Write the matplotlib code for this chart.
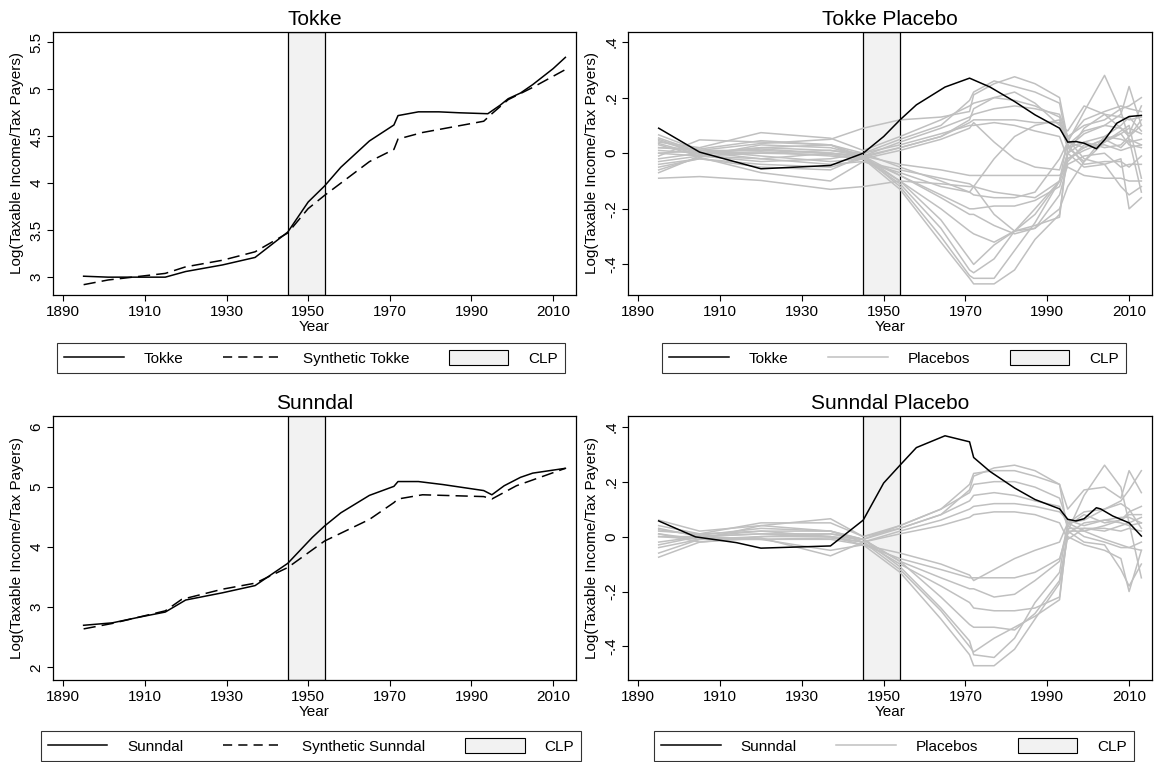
import matplotlib
matplotlib.use("Agg")
import matplotlib.pyplot as plt
from matplotlib.lines import Line2D
from matplotlib.patches import Patch

plt.rcParams['font.family'] = ['Liberation Sans', 'DejaVu Sans']
plt.rcParams['font.size'] = 11

# --- data ---
CLP_START = 1945
CLP_END = 1954

TOKKE_YEARS = [1895, 1901, 1915, 1920, 1929, 1937, 1945, 1950, 1954, 1958, 1965, 1971, 1972,
               1977, 1982, 1987, 1994, 1997, 1999, 2002, 2005, 2010, 2013]
TOKKE = [3.01, 3.00, 3.00, 3.06, 3.13, 3.21, 3.48, 3.80, 3.97, 4.17, 4.45, 4.62, 4.72,
         4.76, 4.76, 4.75, 4.74, 4.83, 4.90, 4.96, 5.05, 5.22, 5.34]
SYNTH_TOKKE_YEARS = [1895, 1901, 1915, 1920, 1929, 1937, 1945, 1950, 1954, 1965, 1971, 1972,
                     1978, 1993, 1995, 1999, 2005, 2013]
SYNTH_TOKKE = [2.92, 2.97, 3.04, 3.11, 3.18, 3.27, 3.47, 3.73, 3.87, 4.23, 4.36, 4.47,
               4.54, 4.66, 4.74, 4.89, 5.02, 5.21]

SUNNDAL_YEARS = [1895, 1902, 1909, 1915, 1920, 1929, 1937, 1945, 1951, 1954, 1958, 1965, 1971,
                 1972, 1977, 1983, 1993, 1995, 1998, 2002, 2005, 2013]
SUNNDAL = [2.70, 2.74, 2.84, 2.92, 3.12, 3.24, 3.36, 3.73, 4.16, 4.35, 4.57, 4.86, 5.01,
           5.09, 5.09, 5.04, 4.94, 4.87, 5.02, 5.16, 5.23, 5.31]
SYNTH_SUNNDAL_YEARS = [1895, 1902, 1915, 1919, 1929, 1937, 1945, 1954, 1965, 1971, 1972,
                       1978, 1993, 1995, 2001, 2013]
SYNTH_SUNNDAL = [2.64, 2.73, 2.94, 3.13, 3.30, 3.40, 3.66, 4.10, 4.46, 4.74, 4.80,
                 4.87, 4.84, 4.80, 5.02, 5.31]

TOKKE_GAP_YEARS = [1895, 1905, 1920, 1937, 1945, 1950, 1954, 1958, 1965, 1971, 1976, 1982,
                   1987, 1993, 1995, 1997, 1999, 2002, 2004, 2007, 2010, 2013]
TOKKE_GAP = [0.09, 0.004, -0.056, -0.044, 0.0, 0.06, 0.12, 0.174, 0.238, 0.27, 0.238, 0.186,
             0.138, 0.09, 0.04, 0.042, 0.036, 0.016, 0.048, 0.108, 0.132, 0.136]

SUNNDAL_GAP_YEARS = [1895, 1904, 1914, 1920, 1937, 1945, 1950, 1954, 1958, 1965, 1971, 1972,
                     1976, 1982, 1987, 1993, 1995, 1997, 1999, 2002, 2003, 2006, 2010, 2013]
SUNNDAL_GAP = [0.057, -0.001, -0.022, -0.042, -0.034, 0.06, 0.195, 0.26, 0.324, 0.367, 0.345,
               0.288, 0.237, 0.177, 0.135, 0.101, 0.063, 0.057, 0.065, 0.105, 0.101, 0.075,
               0.05, 0.002]

PLACEBO_YEARS = [1895, 1905, 1920, 1937, 1945, 1954, 1964, 1971, 1972, 1977, 1982, 1987,
                 1993, 1995, 1999, 2004, 2008, 2010, 2013]

TOKKE_PLACEBOS = [
    [0.066, 0.01, 0.035, 0.05, 0.09, 0.12, 0.13, 0.15, 0.21, 0.25, 0.275, 0.25, 0.20, 0.05, 0.12, 0.15, 0.17, 0.16, 0.15],
    [0.05, 0.0, 0.02, 0.03, 0.0, 0.05, 0.10, 0.19, 0.22, 0.26, 0.24, 0.22, 0.18, 0.03, 0.08, 0.10, 0.14, 0.24, 0.10],
    [0.04, 0.02, 0.074, 0.054, 0.01, 0.06, 0.12, 0.17, 0.18, 0.20, 0.19, 0.17, 0.13, 0.04, 0.15, 0.28, 0.15, 0.05, -0.14],
    [0.03, -0.01, 0.03, 0.02, -0.01, 0.04, 0.09, 0.13, 0.14, 0.16, 0.17, 0.16, 0.14, 0.06, 0.10, 0.12, 0.16, 0.17, 0.20],
    [0.02, 0.01, 0.01, 0.0, -0.01, 0.02, 0.06, 0.11, 0.12, 0.12, 0.12, 0.11, 0.11, 0.02, -0.03, 0.06, 0.10, 0.13, 0.08],
    [0.01, 0.0, 0.0, 0.01, 0.0, 0.03, 0.07, 0.10, 0.10, 0.11, 0.10, 0.08, 0.06, -0.02, 0.02, 0.05, 0.02, 0.05, 0.03],
    [-0.01, 0.048, 0.04, 0.03, -0.02, 0.01, 0.05, 0.09, 0.11, 0.04, -0.02, -0.05, -0.06, 0.03, -0.04, -0.03, -0.03, -0.05, -0.01],
    [-0.03, -0.01, -0.02, -0.04, -0.03, -0.06, -0.09, -0.11, -0.12, -0.02, 0.06, 0.10, 0.12, 0.02, 0.07, 0.10, 0.09, 0.06, 0.12],
    [-0.05, -0.02, -0.05, -0.06, -0.01, -0.04, -0.06, -0.08, -0.08, -0.08, -0.08, -0.08, -0.08, -0.05, -0.08, -0.09, -0.09, -0.10, -0.10],
    [-0.07, -0.01, -0.03, -0.02, 0.0, -0.05, -0.10, -0.14, -0.15, -0.16, -0.16, -0.14, -0.02, 0.04, 0.02, 0.05, 0.07, 0.03, 0.02],
    [-0.09, -0.084, -0.098, -0.13, -0.12, -0.10, -0.11, -0.12, -0.12, -0.14, -0.15, -0.16, -0.10, 0.0, -0.05, -0.04, -0.12, -0.15, -0.12],
    [0.0, 0.01, -0.01, -0.03, -0.02, -0.08, -0.15, -0.20, -0.20, -0.19, -0.19, -0.17, -0.12, -0.03, 0.03, 0.03, 0.01, 0.02, 0.03],
    [0.055, 0.005, -0.02, 0.0, -0.01, -0.08, -0.16, -0.22, -0.22, -0.26, -0.29, -0.27, -0.15, -0.04, -0.01, 0.0, -0.05, -0.04, -0.04],
    [-0.02, 0.0, 0.005, -0.01, -0.02, -0.10, -0.20, -0.28, -0.29, -0.32, -0.28, -0.22, -0.10, 0.0, 0.04, 0.02, 0.03, 0.06, 0.10],
    [0.035, -0.005, 0.02, 0.01, -0.01, -0.10, -0.24, -0.38, -0.40, -0.33, -0.28, -0.26, -0.23, 0.02, 0.04, 0.06, 0.05, 0.04, 0.05],
    [-0.04, -0.02, -0.04, -0.05, -0.02, -0.11, -0.27, -0.42, -0.43, -0.38, -0.28, -0.20, -0.10, -0.02, 0.01, 0.04, 0.07, 0.09, 0.07],
    [0.02, 0.015, 0.045, 0.03, -0.01, -0.12, -0.30, -0.44, -0.45, -0.45, -0.35, -0.25, -0.10, 0.05, -0.02, -0.04, -0.02, -0.20, -0.16],
    [0.0, -0.01, 0.0, -0.005, -0.02, -0.13, -0.32, -0.45, -0.47, -0.47, -0.42, -0.31, -0.22, 0.0, 0.09, 0.14, 0.13, 0.12, 0.13],
    [-0.06, -0.015, -0.07, -0.10, -0.03, -0.07, -0.12, -0.14, -0.12, -0.22, -0.28, -0.27, -0.20, -0.12, -0.03, 0.04, 0.08, 0.10, -0.09],
    [0.045, 0.0, 0.015, 0.0, -0.015, 0.02, 0.06, 0.12, 0.16, 0.20, 0.22, 0.18, 0.10, 0.08, 0.17, 0.14, 0.09, 0.07, 0.17],
]

SUNNDAL_PLACEBOS = [
    [0.06, 0.02, 0.04, 0.065, 0.0, 0.03, 0.08, 0.17, 0.22, 0.25, 0.26, 0.24, 0.19, 0.02, 0.15, 0.26, 0.18, 0.05, -0.15],
    [0.03, 0.0, 0.02, 0.02, -0.01, 0.04, 0.10, 0.19, 0.23, 0.24, 0.24, 0.22, 0.19, 0.10, 0.17, 0.18, 0.14, 0.24, 0.16],
    [0.02, 0.01, 0.05, 0.05, 0.0, 0.04, 0.10, 0.16, 0.19, 0.20, 0.20, 0.18, 0.14, 0.05, 0.06, 0.10, 0.13, 0.17, 0.24],
    [0.0, -0.01, 0.0, 0.01, -0.01, 0.03, 0.08, 0.13, 0.15, 0.16, 0.15, 0.13, 0.11, 0.04, 0.08, 0.05, 0.06, 0.08, 0.08],
    [-0.02, 0.0, 0.01, 0.0, -0.02, 0.02, 0.06, 0.10, 0.11, 0.12, 0.12, 0.11, 0.09, 0.06, 0.04, 0.06, 0.05, 0.04, 0.05],
    [-0.04, -0.01, -0.01, -0.005, -0.02, 0.01, 0.04, 0.07, 0.08, 0.09, 0.09, 0.08, 0.05, -0.01, 0.03, 0.03, 0.02, 0.03, 0.02],
    [0.01, -0.02, 0.0, 0.0, -0.03, -0.06, -0.10, -0.14, -0.16, -0.12, -0.08, -0.05, -0.02, 0.05, 0.02, -0.01, -0.03, -0.04, -0.05],
    [-0.06, -0.01, -0.01, -0.05, -0.03, -0.08, -0.12, -0.15, -0.15, -0.15, -0.15, -0.13, -0.08, 0.02, -0.02, -0.03, -0.12, -0.18, -0.10],
    [0.04, 0.01, 0.02, 0.0, -0.01, -0.09, -0.15, -0.19, -0.19, -0.22, -0.21, -0.16, -0.09, 0.04, 0.0, -0.02, -0.04, -0.04, -0.02],
    [-0.075, -0.02, -0.005, -0.07, -0.02, -0.10, -0.18, -0.24, -0.26, -0.27, -0.27, -0.26, -0.22, 0.02, 0.02, 0.04, 0.06, 0.09, 0.11],
    [0.0, 0.0, 0.01, 0.01, -0.01, -0.09, -0.22, -0.32, -0.33, -0.33, -0.34, -0.28, -0.16, 0.01, 0.05, 0.06, 0.07, 0.07, 0.05],
    [0.025, 0.005, 0.03, 0.02, -0.02, -0.12, -0.27, -0.40, -0.42, -0.37, -0.33, -0.29, -0.23, 0.03, 0.03, 0.02, 0.04, 0.05, 0.07],
    [-0.03, 0.0, -0.01, -0.01, -0.03, -0.13, -0.30, -0.43, -0.47, -0.47, -0.41, -0.30, -0.17, 0.0, -0.03, -0.05, -0.08, -0.20, -0.05],
    [0.01, -0.01, 0.04, 0.02, -0.01, -0.11, -0.26, -0.38, -0.43, -0.44, -0.37, -0.24, -0.13, 0.05, 0.09, 0.10, 0.12, 0.10, 0.03],
]

X_TICKS = [1890, 1910, 1930, 1950, 1970, 1990, 2010]
TOKKE_TICKS = [3, 3.5, 4, 4.5, 5, 5.5]
TOKKE_TICK_LABELS = ['3', '3.5', '4', '4.5', '5', '5.5']
SUNNDAL_TICKS = [2, 3, 4, 5, 6]
SUNNDAL_TICK_LABELS = ['2', '3', '4', '5', '6']
GAP_TICKS = [-0.4, -0.2, 0, 0.2, 0.4]
GAP_TICK_LABELS = ['-.4', '-.2', '0', '.2', '.4']

Y_LABEL = 'Log(Taxable Income/Tax Payers)'
GRAY = '#c0c0c0'
CLP_FILL = '#f2f2f2'
DASH = (0, (8, 4))

W, H = 1154, 762


def add_panel(fig, left_px, top_px, right_px, bottom_px):
    return fig.add_axes([left_px / W, 1 - bottom_px / H,
                         (right_px - left_px) / W, (bottom_px - top_px) / H])


def style_axes(ax, title, ylim, yticks, ylabels):
    ax.axvspan(CLP_START, CLP_END, facecolor=CLP_FILL, edgecolor='black', lw=0.9, zorder=1)
    ax.set_xlim(1887.5, 2015.6)
    ax.set_ylim(*ylim)
    ax.set_xticks(X_TICKS)
    ax.set_yticks(yticks)
    ax.set_yticklabels(ylabels, rotation=90, va='center')
    ax.tick_params(direction='out', length=4, width=0.8, pad=3, labelsize=11)
    ax.set_xlabel('Year', fontsize=11, labelpad=1)
    ax.set_ylabel(Y_LABEL, fontsize=11, labelpad=4)
    ax.set_title(title, fontsize=15, pad=5)
    for s in ax.spines.values():
        s.set_linewidth(0.9)


def add_legend(fig, cx, cy, name, second, placebo):
    h1 = Line2D([], [], color='black', lw=1.1)
    if placebo:
        h2 = Line2D([], [], color=GRAY, lw=1.1)
    else:
        h2 = Line2D([], [], color='black', lw=1.1, linestyle=(0, (6, 4)))
    h3 = Patch(facecolor=CLP_FILL, edgecolor='black', lw=0.8)
    leg = fig.legend([h1, h2, h3], [name, second, 'CLP'], loc='center',
                     bbox_to_anchor=(cx / W, 1 - cy / H), ncol=3, fontsize=11,
                     frameon=True, fancybox=False, edgecolor='black',
                     handlelength=3.9, handletextpad=1.3, columnspacing=2.6,
                     handleheight=1.1, borderpad=0.45)
    leg.get_frame().set_linewidth(0.8)


fig = plt.figure(figsize=(W / 100, H / 100), dpi=100)

# Tokke
ax = add_panel(fig, 53, 32, 576, 295)
style_axes(ax, 'Tokke', (2.81, 5.61), TOKKE_TICKS, TOKKE_TICK_LABELS)
ax.plot(TOKKE_YEARS, TOKKE, color='black', lw=1.1, zorder=3)
ax.plot(SYNTH_TOKKE_YEARS, SYNTH_TOKKE, color='black', lw=1.1, linestyle=DASH, zorder=3)
add_legend(fig, 311, 358, 'Tokke', 'Synthetic Tokke', False)

# Tokke placebo
ax = add_panel(fig, 628, 32, 1152, 295)
style_axes(ax, 'Tokke Placebo', (-0.51, 0.436), GAP_TICKS, GAP_TICK_LABELS)
for row in TOKKE_PLACEBOS:
    ax.plot(PLACEBO_YEARS, row, color=GRAY, lw=1.1, zorder=2)
ax.plot(TOKKE_GAP_YEARS, TOKKE_GAP, color='black', lw=1.1, zorder=3)
add_legend(fig, 894, 358, 'Tokke', 'Placebos', True)

# Sunndal
ax = add_panel(fig, 53, 416, 576, 680)
style_axes(ax, 'Sunndal', (1.79, 6.18), SUNNDAL_TICKS, SUNNDAL_TICK_LABELS)
ax.plot(SUNNDAL_YEARS, SUNNDAL, color='black', lw=1.1, zorder=3)
ax.plot(SYNTH_SUNNDAL_YEARS, SYNTH_SUNNDAL, color='black', lw=1.1, linestyle=DASH, zorder=3)
add_legend(fig, 311, 746, 'Sunndal', 'Synthetic Sunndal', False)

# Sunndal placebo
ax = add_panel(fig, 628, 416, 1152, 680)
style_axes(ax, 'Sunndal Placebo', (-0.522, 0.439), GAP_TICKS, GAP_TICK_LABELS)
for row in SUNNDAL_PLACEBOS:
    ax.plot(PLACEBO_YEARS, row, color=GRAY, lw=1.1, zorder=2)
ax.plot(SUNNDAL_GAP_YEARS, SUNNDAL_GAP, color='black', lw=1.1, zorder=3)
add_legend(fig, 894, 746, 'Sunndal', 'Placebos', True)

fig.savefig('out.png', dpi=100)
